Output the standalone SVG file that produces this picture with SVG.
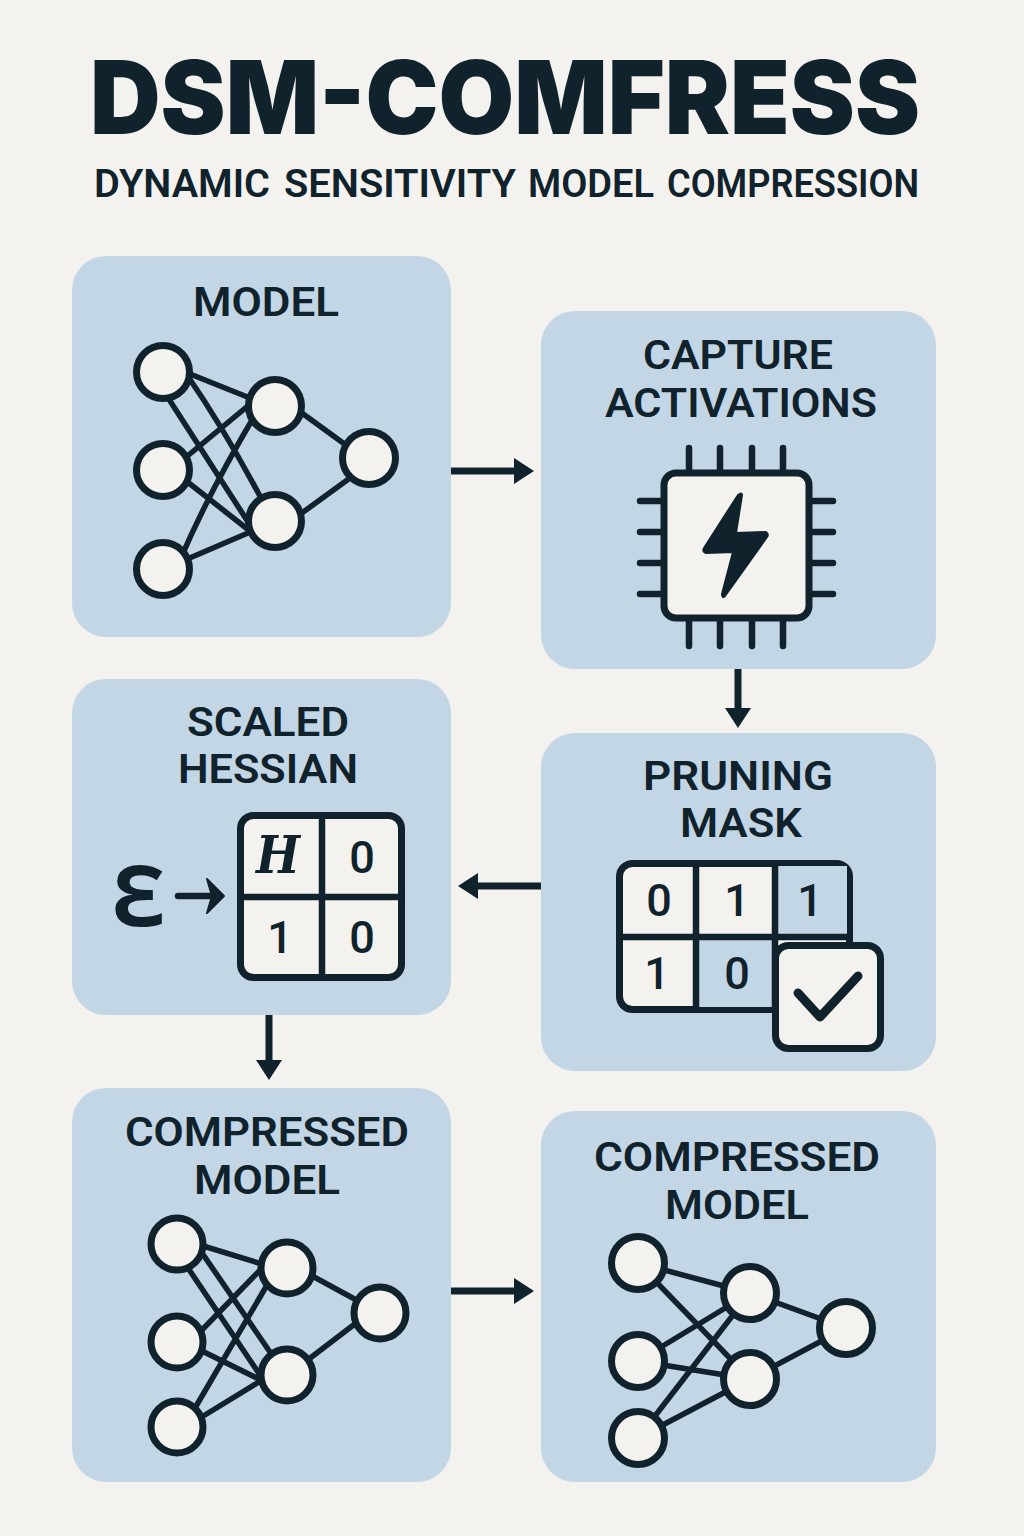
<svg xmlns="http://www.w3.org/2000/svg" width="1024" height="1536" viewBox="0 0 1024 1536">
<style>
text{font-family:"Roboto","Liberation Sans",sans-serif;fill:#10222c;text-anchor:middle}
.ttl{font-family:"Inter","Roboto",sans-serif;font-size:102px;font-weight:900;text-anchor:start}
.sub{font-size:39px;font-weight:600;text-anchor:start}
.lbl{font-size:41px;font-weight:600}
.cell{font-size:45px;font-weight:500}
.eps{font-family:"Open Sans","Noto Sans",sans-serif;font-size:84px;font-weight:700}
.hh{font-family:"DejaVu Serif","Liberation Serif",serif;font-size:52px;font-weight:700;font-style:italic}
.card{fill:#c3d6e6}
.ln{stroke:#10222c;stroke-width:5.5;fill:none;stroke-linecap:round;stroke-linejoin:round}
.pin{stroke:#10222c;stroke-width:6.5;fill:none;stroke-linecap:round}
.nd{fill:#f3f2ee;stroke:#10222c;stroke-width:7}
.box{fill:#f3f2ee;stroke:#10222c;stroke-width:7;stroke-linejoin:round}
.div{stroke:#10222c;stroke-width:6.5;fill:none}
.conn{stroke:#10222c;stroke-width:7;fill:none}
.head{fill:#10222c}
</style>
<defs>
<marker id="arr" markerUnits="userSpaceOnUse" markerWidth="22" markerHeight="28" refX="1" refY="13" orient="auto"><path d="M0 0L20 13L0 26Z" class="head"/></marker>
</defs>
<rect width="1024" height="1536" fill="#f3f2ee"/>
<g id="title">
<text class="ttl" x="90" y="134" textLength="830" lengthAdjust="spacingAndGlyphs">DSM-COMFRESS</text>
<text class="sub" y="197"><tspan x="94" textLength="176" lengthAdjust="spacingAndGlyphs">DYNAMIC</tspan> <tspan x="284" textLength="232" lengthAdjust="spacingAndGlyphs">SENSITIVITY</tspan> <tspan x="528" textLength="126" lengthAdjust="spacingAndGlyphs">MODEL</tspan> <tspan x="667" textLength="252" lengthAdjust="spacingAndGlyphs">COMPRESSION</tspan></text>
</g>
<g id="connectors">
<path class="conn" d="M451 471H515" marker-end="url(#arr)"/>
<path class="conn" d="M738 669V709" marker-end="url(#arr)"/>
<path class="conn" d="M541 886H477" marker-end="url(#arr)"/>
<path class="conn" d="M269 1015V1061" marker-end="url(#arr)"/>
<path class="conn" d="M451 1291H515" marker-end="url(#arr)"/>
</g>
<g id="node-model">
<rect class="card" x="72" y="256" width="379" height="381" rx="34"/>
<text class="lbl" x="266" y="316" textLength="146" lengthAdjust="spacingAndGlyphs">MODEL</text>
<path class="ln" d="M185 372L255 400M185 372Q225 430 262 500M163 390L250 525M185 458L255 400M185 480L255 535M180 560Q210 490 258 410M185 560L255 530M295 408L350 448M295 518L350 478"/>
<circle class="nd" cx="163" cy="372" r="26.5"/><circle class="nd" cx="163" cy="470" r="26.5"/><circle class="nd" cx="163" cy="569" r="26.5"/>
<circle class="nd" cx="275" cy="406" r="26.5"/><circle class="nd" cx="275" cy="521" r="26.5"/><circle class="nd" cx="369" cy="458" r="26.5"/>
</g>
<g id="node-capture">
<rect class="card" x="541" y="311" width="395" height="358" rx="34"/>
<text class="lbl" x="738" y="369" textLength="190" lengthAdjust="spacingAndGlyphs">CAPTURE</text>
<text class="lbl" x="741" y="417" textLength="272" lengthAdjust="spacingAndGlyphs">ACTIVATIONS</text>
<path class="pin" d="M689 448V472M720 448V472M752 448V472M783 448V472M689 620V646M720 620V646M752 620V646M783 620V646M640 501H662M640 532H662M640 563H662M640 594H662M812 501H833M812 532H833M812 563H833M812 594H833"/>
<rect class="box" x="664" y="473" width="145" height="145" rx="12"/>
<path d="M742 495L736 533L766 532Q769 534 767 537L725 596Q722 599 722 594L733 552L706 553Q702 552 704 548L738 495Q742 492 742 495Z" fill="#10222c" stroke="#10222c" stroke-width="2" stroke-linejoin="round"/>
</g>
<g id="node-hessian">
<rect class="card" x="72" y="679" width="379" height="336" rx="34"/>
<text class="lbl" x="268" y="736" textLength="162" lengthAdjust="spacingAndGlyphs">SCALED</text>
<text class="lbl" x="268" y="783" textLength="180" lengthAdjust="spacingAndGlyphs">HESSIAN</text>
<text class="eps" x="139" y="926">Ɛ</text>
<path d="M178 896H212" stroke="#10222c" stroke-width="6.5" stroke-linecap="round"/>
<path d="M207 879L224 896L207 913L212 896Z" fill="#10222c" stroke="#10222c" stroke-width="2" stroke-linejoin="round"/>
<rect class="box" x="240.500" y="815.500" width="161" height="162" rx="13"/>
<path class="div" d="M322 815V978M240 897H402"/>
<text class="hh" x="278" y="873" textLength="44" lengthAdjust="spacingAndGlyphs">H</text>
<text class="cell" x="362" y="873">0</text>
<text class="cell" x="280" y="953">1</text>
<text class="cell" x="362" y="953">0</text>
</g>
<g id="node-pruning">
<rect class="card" x="541" y="733" width="395" height="338" rx="34"/>
<text class="lbl" x="738" y="790" textLength="190" lengthAdjust="spacingAndGlyphs">PRUNING</text>
<text class="lbl" x="741" y="837" textLength="122" lengthAdjust="spacingAndGlyphs">MASK</text>
<rect class="box" x="619.500" y="863.500" width="230" height="146" rx="13"/>
<path d="M775 866H847V937H775Z" fill="#c3d6e6"/>
<path d="M696 937H775V1007H696Z" fill="#c3d6e6"/>
<path class="div" d="M696 864V1009M775 864V1009M620 937H850"/>
<text class="cell" x="659" y="916">0</text>
<text class="cell" x="737" y="916">1</text>
<text class="cell" x="810" y="916">1</text>
<text class="cell" x="657" y="989">1</text>
<text class="cell" x="737" y="989">0</text>
<rect class="box" x="775.500" y="945.500" width="105" height="103" rx="13"/>
<path d="M798 993L820 1017L858 976" stroke="#10222c" stroke-width="9" fill="none" stroke-linecap="round" stroke-linejoin="round"/>
</g>
<g id="node-compressed-a">
<rect class="card" x="72" y="1088" width="379" height="394" rx="34"/>
<text class="lbl" x="267" y="1146" textLength="284" lengthAdjust="spacingAndGlyphs">COMPRESSED</text>
<text class="lbl" x="267" y="1194" textLength="146" lengthAdjust="spacingAndGlyphs">MODEL</text>
<path class="ln" d="M200 1245L265 1265M200 1250L272 1355M188 1268L262 1378M200 1332L265 1265M200 1350L265 1382M195 1408L270 1280M200 1418L262 1380M305 1272L360 1302M305 1362L360 1320"/>
<circle class="nd" cx="177" cy="1244" r="26"/><circle class="nd" cx="177" cy="1342" r="26"/><circle class="nd" cx="177" cy="1427" r="26"/>
<circle class="nd" cx="287" cy="1268" r="26"/><circle class="nd" cx="287" cy="1375" r="26"/><circle class="nd" cx="380" cy="1313" r="26"/>
</g>
<g id="node-compressed-b">
<rect class="card" x="541" y="1111" width="395" height="371" rx="34"/>
<text class="lbl" x="737" y="1171" textLength="286" lengthAdjust="spacingAndGlyphs">COMPRESSED</text>
<text class="lbl" x="737" y="1219" textLength="144" lengthAdjust="spacingAndGlyphs">MODEL</text>
<path class="ln" d="M638 1263L750 1293M638 1263L750 1379M638 1361L750 1293M638 1361L750 1379M638 1438L750 1293M638 1438L750 1379M750 1293L846 1328M750 1379L846 1328"/>
<circle class="nd" cx="638" cy="1263" r="26.500"/><circle class="nd" cx="638" cy="1361" r="26.500"/><circle class="nd" cx="638" cy="1438" r="26.500"/>
<circle class="nd" cx="750" cy="1293" r="26.500"/><circle class="nd" cx="750" cy="1379" r="26.500"/><circle class="nd" cx="846" cy="1328" r="26.500"/>
</g>
</svg>
